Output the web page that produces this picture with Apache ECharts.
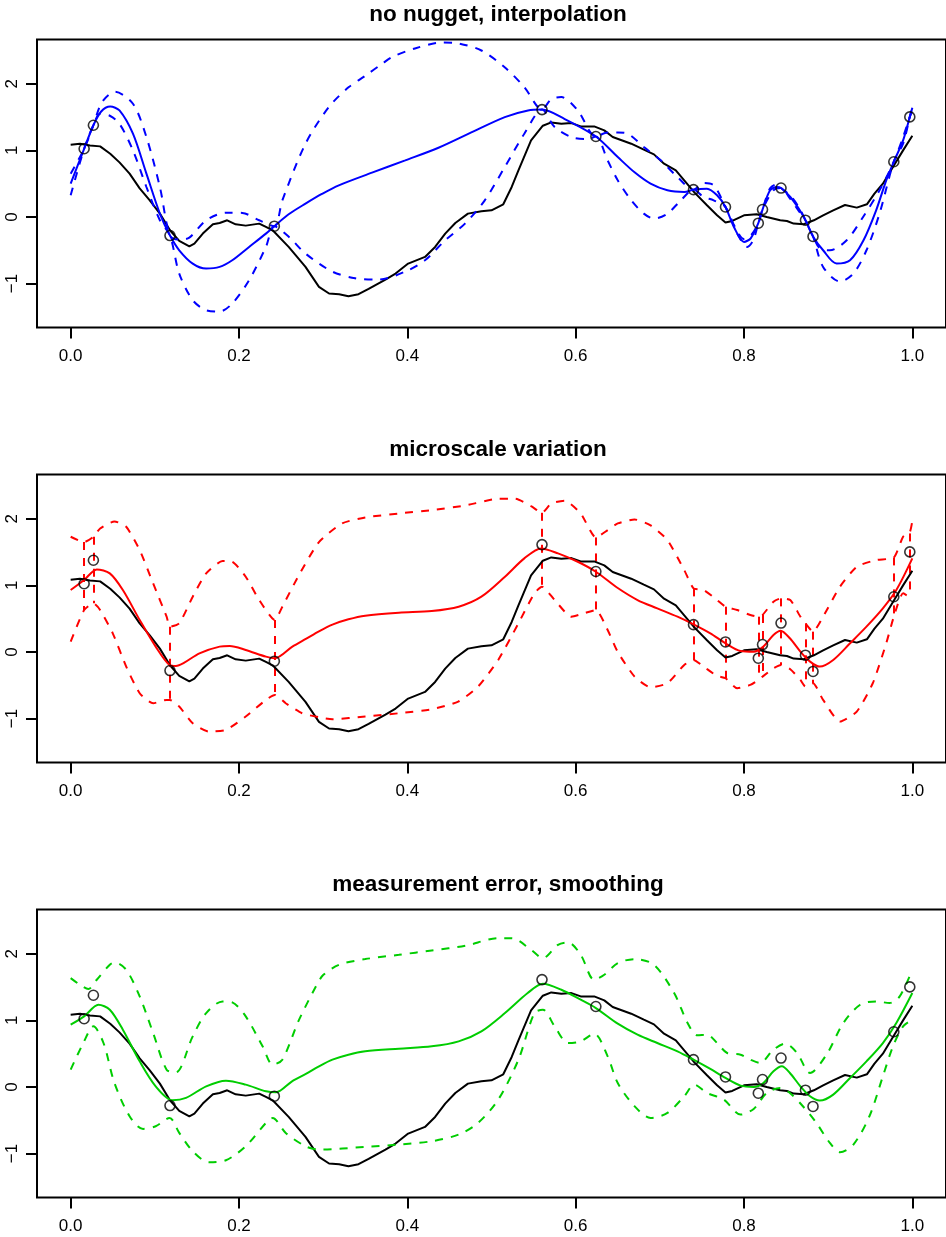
<!DOCTYPE html>
<html>
<head>
<meta charset="utf-8">
<script src="https://cdn.jsdelivr.net/npm/echarts@6/dist/echarts.min.js"></script>
<style>
  html, body { margin: 0; padding: 0; background: #fff; }
  #chart { width: 946px; height: 1237px; }
</style>
</head>
<body>
<div id="chart"></div>
<script>
// tick labels / titles
const xTicks = [0, 0.2, 0.4, 0.6, 0.8, 1.0];
const yTicks = [-1, 0, 1, 2];
const panelTitles = ['no nugget, interpolation', 'microscale variation', 'measurement error, smoothing'];

// observed locations and values
const obsX = [0.016, 0.027, 0.118, 0.242, 0.560, 0.624, 0.740, 0.778, 0.817, 0.822, 0.844, 0.873, 0.882, 0.978, 0.997];
const obsY = [1.024, 1.377, -0.279, -0.139, 1.612, 1.208, 0.410, 0.150, -0.094, 0.111, 0.434, -0.049, -0.293, 0.829, 1.503];

// true process (black)
const truth = [[0,1.084],[0.011,1.10],[0.023,1.073],[0.035,1.06],[0.047,0.95],[0.058,0.82],[0.070,0.65],[0.082,0.43],[0.094,0.25],[0.106,0.05],[0.118,-0.20],[0.129,-0.36],[0.141,-0.44],[0.147,-0.40],[0.157,-0.25],[0.169,-0.11],[0.177,-0.09],[0.186,-0.05],[0.196,-0.11],[0.208,-0.13],[0.224,-0.10],[0.232,-0.15],[0.240,-0.20],[0.259,-0.45],[0.279,-0.75],[0.295,-1.05],[0.307,-1.15],[0.319,-1.16],[0.330,-1.19],[0.342,-1.16],[0.354,-1.08],[0.374,-0.94],[0.386,-0.85],[0.401,-0.70],[0.421,-0.60],[0.433,-0.45],[0.445,-0.25],[0.457,-0.09],[0.472,0.05],[0.488,0.085],[0.500,0.10],[0.514,0.19],[0.524,0.45],[0.532,0.70],[0.547,1.15],[0.561,1.37],[0.571,1.42],[0.583,1.40],[0.595,1.41],[0.606,1.36],[0.622,1.36],[0.634,1.30],[0.644,1.20],[0.666,1.10],[0.681,1.01],[0.693,0.94],[0.705,0.80],[0.719,0.70],[0.729,0.55],[0.741,0.37],[0.756,0.175],[0.768,0.025],[0.778,-0.084],[0.786,-0.06],[0.800,0.025],[0.815,0.04],[0.827,0.0],[0.843,-0.05],[0.851,-0.06],[0.859,-0.10],[0.871,-0.11],[0.883,-0.05],[0.894,0.025],[0.906,0.10],[0.920,0.18],[0.934,0.14],[0.946,0.19],[0.955,0.35],[0.965,0.50],[0.977,0.75],[0.989,1.0],[1.0,1.22]];

// panel 1: no nugget (blue)
const bluePred = [[0,0.50],[0.016,1.024],[0.027,1.377],[0.036,1.58],[0.047,1.657],[0.058,1.60],[0.074,1.25],[0.090,0.65],[0.106,0.05],[0.118,-0.279],[0.129,-0.50],[0.145,-0.70],[0.161,-0.775],[0.177,-0.75],[0.192,-0.65],[0.212,-0.45],[0.232,-0.25],[0.242,-0.139],[0.259,0.04],[0.279,0.20],[0.2985,0.345],[0.3186,0.475],[0.358,0.665],[0.3975,0.85],[0.437,1.04],[0.476,1.27],[0.5158,1.50],[0.5434,1.60],[0.560,1.612],[0.587,1.47],[0.624,1.208],[0.650,0.90],[0.670,0.67],[0.689,0.50],[0.709,0.40],[0.729,0.375],[0.740,0.41],[0.756,0.425],[0.768,0.325],[0.778,0.15],[0.788,-0.15],[0.800,-0.375],[0.808,-0.32],[0.817,-0.094],[0.822,0.111],[0.831,0.40],[0.839,0.45],[0.844,0.434],[0.855,0.30],[0.865,0.126],[0.873,-0.049],[0.882,-0.293],[0.894,-0.50],[0.910,-0.70],[0.926,-0.65],[0.942,-0.35],[0.957,0.10],[0.969,0.55],[0.978,0.829],[0.989,1.15],[0.997,1.503],[1.0,1.64]];
const blueUpper = [[0,0.65],[0.016,1.024],[0.027,1.377],[0.037,1.72],[0.0525,1.88],[0.074,1.70],[0.090,1.20],[0.106,0.45],[0.118,-0.279],[0.129,-0.34],[0.141,-0.31],[0.161,-0.05],[0.185,0.065],[0.204,0.06],[0.224,-0.05],[0.242,-0.139],[0.2515,0.25],[0.279,1.10],[0.3067,1.65],[0.3305,1.95],[0.350,2.12],[0.370,2.30],[0.3816,2.40],[0.409,2.53],[0.441,2.62],[0.461,2.605],[0.488,2.50],[0.516,2.245],[0.539,1.95],[0.560,1.612],[0.571,1.77],[0.583,1.80],[0.6025,1.60],[0.624,1.208],[0.638,1.27],[0.650,1.27],[0.662,1.25],[0.681,1.05],[0.701,0.85],[0.721,0.60],[0.740,0.41],[0.752,0.51],[0.764,0.475],[0.778,0.15],[0.788,-0.12],[0.800,-0.33],[0.808,-0.28],[0.817,-0.094],[0.822,0.111],[0.831,0.43],[0.839,0.49],[0.844,0.434],[0.855,0.32],[0.865,0.15],[0.873,-0.049],[0.882,-0.293],[0.890,-0.47],[0.902,-0.50],[0.922,-0.35],[0.9415,0.0],[0.961,0.40],[0.978,0.829],[0.989,1.2],[0.997,1.503],[1.0,1.60]];
const blueLower = [[0,0.325],[0.016,1.024],[0.027,1.377],[0.035,1.55],[0.0465,1.52],[0.058,1.40],[0.074,1.0],[0.090,0.45],[0.106,-0.05],[0.118,-0.279],[0.129,-0.85],[0.145,-1.25],[0.161,-1.40],[0.177,-1.42],[0.192,-1.30],[0.212,-0.95],[0.232,-0.45],[0.242,-0.139],[0.2594,-0.30],[0.279,-0.55],[0.3107,-0.82],[0.338,-0.92],[0.366,-0.94],[0.3975,-0.82],[0.421,-0.65],[0.445,-0.35],[0.4685,-0.10],[0.492,0.25],[0.5158,0.75],[0.539,1.25],[0.560,1.612],[0.575,1.35],[0.595,1.20],[0.614,1.17],[0.624,1.208],[0.638,0.85],[0.650,0.55],[0.666,0.25],[0.681,0.05],[0.693,-0.025],[0.709,0.05],[0.725,0.25],[0.740,0.41],[0.752,0.30],[0.764,0.25],[0.778,0.15],[0.792,-0.25],[0.804,-0.45],[0.811,-0.35],[0.817,-0.094],[0.822,0.111],[0.835,0.40],[0.844,0.434],[0.855,0.27],[0.865,0.09],[0.873,-0.049],[0.882,-0.293],[0.894,-0.75],[0.914,-0.97],[0.930,-0.85],[0.9455,-0.50],[0.961,0.05],[0.978,0.829],[0.989,1.10],[0.997,1.503],[1.0,1.66]];

// panel 2: microscale variation (red)
const redPred = [[0,0.93],[0.016,1.08],[0.031,1.24],[0.0465,1.18],[0.062,0.93],[0.082,0.48],[0.101,0.08],[0.1175,-0.195],[0.125,-0.21],[0.135,-0.16],[0.153,-0.02],[0.177,0.08],[0.189,0.09],[0.208,0.03],[0.232,-0.07],[0.2425,-0.095],[0.2634,0.08],[0.280,0.20],[0.295,0.31],[0.311,0.41],[0.330,0.49],[0.350,0.545],[0.390,0.59],[0.429,0.615],[0.461,0.68],[0.488,0.83],[0.516,1.13],[0.539,1.405],[0.559,1.555],[0.579,1.48],[0.6025,1.355],[0.624,1.205],[0.650,0.96],[0.6735,0.78],[0.697,0.655],[0.721,0.53],[0.740,0.415],[0.760,0.28],[0.778,0.13],[0.796,0.015],[0.8115,0.005],[0.823,0.08],[0.835,0.255],[0.8435,0.32],[0.8545,0.205],[0.867,0.005],[0.8785,-0.145],[0.890,-0.22],[0.906,-0.12],[0.926,0.13],[0.9455,0.38],[0.965,0.655],[0.981,0.93],[1.0,1.405]];
const redUpper = [[0,1.73],[0.016,1.65],[0.027,1.73],[0.035,1.855],[0.052,1.96],[0.066,1.88],[0.082,1.53],[0.098,1.03],[0.114,0.53],[0.118,0.38],[0.129,0.43],[0.145,0.83],[0.161,1.18],[0.1805,1.365],[0.192,1.355],[0.208,1.13],[0.224,0.78],[0.2425,0.48],[0.2515,0.68],[0.271,1.15],[0.295,1.65],[0.3225,1.93],[0.350,2.02],[0.390,2.08],[0.429,2.13],[0.469,2.20],[0.508,2.30],[0.528,2.30],[0.547,2.19],[0.560,2.09],[0.571,2.23],[0.587,2.27],[0.606,2.08],[0.624,1.72],[0.638,1.83],[0.650,1.93],[0.670,1.99],[0.689,1.90],[0.709,1.68],[0.729,1.23],[0.740,0.955],[0.752,0.93],[0.768,0.78],[0.778,0.68],[0.792,0.63],[0.8075,0.555],[0.817,0.53],[0.822,0.555],[0.835,0.755],[0.844,0.805],[0.855,0.78],[0.867,0.53],[0.873,0.43],[0.882,0.305],[0.894,0.53],[0.914,0.98],[0.934,1.28],[0.957,1.38],[0.978,1.42],[0.989,1.73],[0.997,1.80],[1.0,1.97]];
const redLower = [[0,0.155],[0.016,0.63],[0.027,0.73],[0.035,0.63],[0.050,0.28],[0.066,-0.22],[0.082,-0.62],[0.098,-0.77],[0.114,-0.72],[0.118,-0.72],[0.129,-0.82],[0.145,-1.07],[0.164,-1.195],[0.1845,-1.17],[0.208,-0.97],[0.232,-0.72],[0.2425,-0.645],[0.2555,-0.77],[0.275,-0.92],[0.295,-0.98],[0.311,-1.01],[0.350,-0.97],[0.390,-0.92],[0.429,-0.86],[0.4605,-0.745],[0.484,-0.52],[0.508,-0.12],[0.532,0.43],[0.551,0.88],[0.560,0.98],[0.575,0.78],[0.595,0.53],[0.610,0.58],[0.624,0.63],[0.638,0.33],[0.650,0.0],[0.670,-0.37],[0.689,-0.53],[0.709,-0.47],[0.729,-0.195],[0.740,-0.12],[0.752,-0.22],[0.768,-0.36],[0.778,-0.395],[0.792,-0.545],[0.8075,-0.495],[0.817,-0.42],[0.822,-0.37],[0.835,-0.245],[0.844,-0.195],[0.855,-0.26],[0.867,-0.42],[0.873,-0.52],[0.882,-0.47],[0.894,-0.72],[0.914,-1.045],[0.934,-0.895],[0.953,-0.47],[0.969,0.13],[0.978,0.53],[0.989,0.88],[0.997,0.83],[1.0,0.85]];
// band limits right at the observed locations (vertical jumps)
const redJumpTop = [1.65, 1.73, 0.38, 0.48, 2.09, 1.72, 0.955, 0.68, 0.53, 0.555, 0.805, 0.43, 0.305, 1.42, 1.78];
const redJumpBottom = [0.63, 0.73, -0.72, -0.645, 0.98, 0.63, -0.12, -0.395, -0.42, -0.37, -0.195, -0.52, -0.47, 0.52, 0.83];

// panel 3: measurement error (green)
const greenPred = [[0,0.935],[0.016,1.06],[0.033,1.235],[0.0465,1.16],[0.062,0.86],[0.082,0.385],[0.101,0.01],[0.121,-0.20],[0.137,-0.165],[0.161,0.01],[0.1845,0.095],[0.208,0.035],[0.232,-0.065],[0.244,-0.08],[0.263,0.085],[0.280,0.20],[0.295,0.31],[0.311,0.41],[0.330,0.485],[0.350,0.535],[0.390,0.575],[0.429,0.61],[0.461,0.685],[0.488,0.835],[0.516,1.11],[0.543,1.41],[0.561,1.55],[0.583,1.46],[0.606,1.31],[0.624,1.185],[0.650,0.95],[0.6735,0.785],[0.697,0.66],[0.721,0.535],[0.740,0.41],[0.760,0.27],[0.778,0.135],[0.796,0.02],[0.8115,0.0],[0.823,0.06],[0.835,0.235],[0.845,0.31],[0.8545,0.21],[0.867,0.01],[0.8785,-0.14],[0.890,-0.205],[0.906,-0.115],[0.926,0.135],[0.9455,0.385],[0.965,0.66],[0.981,0.96],[1.0,1.41]];
const greenUpper = [[0,1.635],[0.011,1.535],[0.021,1.47],[0.031,1.61],[0.0465,1.835],[0.0524,1.87],[0.066,1.76],[0.082,1.36],[0.098,0.81],[0.114,0.26],[0.125,0.22],[0.145,0.76],[0.161,1.11],[0.1805,1.285],[0.192,1.27],[0.208,1.06],[0.228,0.61],[0.240,0.335],[0.2515,0.41],[0.271,1.0],[0.291,1.5],[0.300,1.68],[0.319,1.835],[0.350,1.92],[0.390,1.985],[0.429,2.05],[0.469,2.12],[0.508,2.235],[0.524,2.235],[0.547,2.06],[0.561,1.935],[0.579,2.135],[0.591,2.17],[0.606,1.985],[0.622,1.61],[0.634,1.685],[0.650,1.86],[0.670,1.92],[0.693,1.835],[0.717,1.41],[0.733,0.96],[0.7445,0.775],[0.7563,0.785],[0.768,0.66],[0.780,0.51],[0.796,0.485],[0.8075,0.41],[0.819,0.36],[0.835,0.56],[0.849,0.65],[0.863,0.51],[0.8785,0.21],[0.898,0.485],[0.918,0.96],[0.938,1.235],[0.957,1.285],[0.973,1.26],[0.985,1.36],[1.0,1.76]];
const greenLower = [[0,0.26],[0.015,0.66],[0.027,0.91],[0.039,0.66],[0.052,0.06],[0.070,-0.44],[0.086,-0.63],[0.101,-0.59],[0.1175,-0.465],[0.129,-0.69],[0.145,-0.965],[0.164,-1.13],[0.1845,-1.10],[0.208,-0.89],[0.232,-0.54],[0.240,-0.465],[0.2555,-0.69],[0.279,-0.89],[0.295,-0.94],[0.350,-0.90],[0.390,-0.865],[0.429,-0.815],[0.461,-0.715],[0.484,-0.54],[0.508,-0.19],[0.532,0.41],[0.551,1.11],[0.561,1.16],[0.575,0.91],[0.591,0.66],[0.606,0.685],[0.622,0.80],[0.638,0.46],[0.650,0.06],[0.670,-0.29],[0.689,-0.465],[0.709,-0.39],[0.729,-0.14],[0.741,0.035],[0.756,-0.09],[0.776,-0.19],[0.796,-0.415],[0.8115,-0.33],[0.827,-0.09],[0.843,-0.015],[0.8545,-0.09],[0.870,-0.29],[0.886,-0.54],[0.902,-0.84],[0.914,-0.98],[0.930,-0.865],[0.949,-0.44],[0.965,0.16],[0.977,0.61],[0.989,0.91],[1.0,1.01]];

const FONT = 'Liberation Sans, Arial, Helvetica, sans-serif';
const LW = 2;
const DASH = [8, 8];
const gridTops = [39.5, 474.5, 909.5];

const chart = echarts.init(document.getElementById('chart'));

const obsData = obsX.map((x, i) => [x, obsY[i]]);

function lineSeries(idx, data, color, dashed, smooth) {
  return {
    type: 'line', xAxisIndex: idx, yAxisIndex: idx,
    data: data, showSymbol: false, symbol: 'none',
    smooth: smooth, silent: true,
    lineStyle: {color: color, width: LW, type: dashed ? DASH : 'solid'}
  };
}

const panels = [
  {color: '#0000ff', pred: bluePred, upper: blueUpper, lower: blueLower},
  {color: '#ff0000', pred: redPred, upper: redUpper, lower: redLower},
  {color: '#00cd00', pred: greenPred, upper: greenUpper, lower: greenLower}
];

const grid = [], xAxis = [], yAxis = [], title = [], series = [];

panels.forEach((p, i) => {
  grid.push({
    left: 37, right: -4, top: gridTops[i], height: 288,
    show: true, borderColor: '#000', borderWidth: LW, backgroundColor: 'transparent'
  });
  title.push({
    text: panelTitles[i], left: 493, top: gridTops[i] - 41, textAlign: 'center',
    textStyle: {fontFamily: FONT, fontSize: 22.5, fontWeight: 'bold', color: '#000'}
  });
  xAxis.push({
    type: 'value', gridIndex: i, min: -0.04, max: 1.04,
    axisLine: {show: false, onZero: false}, splitLine: {show: false},
    axisTick: {show: true, length: 11, customValues: xTicks, lineStyle: {color: '#000', width: LW}},
    axisLabel: {
      customValues: xTicks, formatter: v => v.toFixed(1),
      color: '#000', fontSize: 17, fontFamily: FONT, margin: 20
    }
  });
  yAxis.push({
    type: 'value', gridIndex: i, min: -1.66, max: 2.665,
    axisLine: {show: false, onZero: false}, splitLine: {show: false},
    axisTick: {show: true, length: 11, customValues: yTicks, lineStyle: {color: '#000', width: LW}},
    axisLabel: {
      customValues: yTicks, rotate: 90,
      formatter: v => (v < 0 ? '\u2212' + Math.abs(v) : String(v)),
      color: '#000', fontSize: 17, fontFamily: FONT, margin: 16
    }
  });

  series.push({
    type: 'scatter', xAxisIndex: i, yAxisIndex: i, data: obsData,
    symbol: 'circle', symbolSize: 10, silent: true, z: 5,
    itemStyle: {color: 'rgba(0,0,0,0)', borderColor: '#000', borderWidth: 1.6}
  });
  series.push(lineSeries(i, truth, '#000', false, false));
  series.push(lineSeries(i, p.pred, p.color, false, 0.3));
  series.push(lineSeries(i, p.upper, p.color, true, i === 1 ? 0.2 : 0.3));
  series.push(lineSeries(i, p.lower, p.color, true, i === 1 ? 0.2 : 0.3));

  if (i === 1) {
    series.push({
      type: 'lines', coordinateSystem: 'cartesian2d', xAxisIndex: i, yAxisIndex: i,
      silent: true,
      lineStyle: {color: p.color, width: LW, type: DASH, opacity: 1},
      data: obsX.map((x, k) => ({coords: [[x, redJumpTop[k]], [x, redJumpBottom[k]]]}))
    });
  }
});

chart.setOption({
  animation: false,
  backgroundColor: '#fff',
  title: title,
  grid: grid,
  xAxis: xAxis,
  yAxis: yAxis,
  series: series
});
</script>
</body>
</html>
